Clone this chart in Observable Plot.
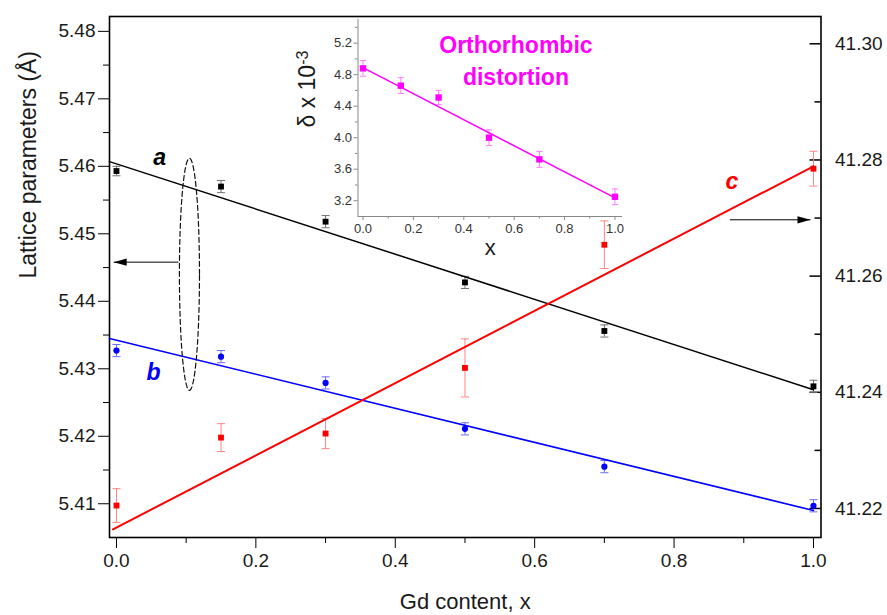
<!DOCTYPE html>
<html><head><meta charset="utf-8">
<script src="https://cdn.jsdelivr.net/npm/d3@7"></script>
<script src="https://cdn.jsdelivr.net/npm/@observablehq/plot@0.6"></script>
<style>
body{margin:0;background:#fff;}
#wrap{position:relative;width:887px;height:615px;}
#main{position:absolute;left:0;top:0;}
#inset{position:absolute;left:280px;top:0;}
</style></head><body><div id="wrap"><div id="main"></div><div id="inset"></div></div>
<script>
// ---------- data ----------
const gd = [0, 0.15, 0.3, 0.5, 0.7, 1.0];
const aVals = [5.4593, 5.4570, 5.4518, 5.4428, 5.4356, 5.4274];
const aErr  = [0.0007, 0.0009, 0.0009, 0.0009, 0.0009, 0.0009];
const bVals = [5.4327, 5.4318, 5.4279, 5.4211, 5.4155, 5.4097];
const bErr  = [0.0009, 0.0009, 0.0009, 0.0009, 0.0009, 0.0009];
const cVals = [41.2205, 41.2322, 41.2329, 41.2442, 41.2654, 41.2785];
const cErr  = [0.0029, 0.0024, 0.0026, 0.0050, 0.0041, 0.0030];
const aFitX = [-0.01, 1.0],  aFitY = [5.4607, 5.4269];
const bFitX = [-0.01, 1.0],  bFitY = [5.4345, 5.4090];
const cFitX = [-0.005, 1.0], cFitY = [41.2164, 41.2789];
const deltaVals = [4.88, 4.66, 4.51, 4.00, 3.725, 3.25];
const deltaErr  = [0.10, 0.10, 0.09, 0.10, 0.10, 0.10];
const dFitX = [-0.01, 1.01], dFitY = [4.905, 3.22];

const xTicks = [0, 0.2, 0.4, 0.6, 0.8, 1.0];
const xMinor = [0.1, 0.3, 0.5, 0.7, 0.9];
const leftTicks = [5.41, 5.42, 5.43, 5.44, 5.45, 5.46, 5.47, 5.48];
const leftMinor = [5.415, 5.425, 5.435, 5.445, 5.455, 5.465, 5.475];
const rightTicks = [41.22, 41.24, 41.26, 41.28, 41.30];
const rightMinor = [41.23, 41.25, 41.27, 41.29];
const insetYTicks = [3.2, 3.6, 4.0, 4.4, 4.8, 5.2];
const insetYMinor = [3.4, 3.8, 4.2, 4.6, 5.0, 5.4];
const insetXTicks = [0, 0.2, 0.4, 0.6, 0.8, 1.0];
const insetXMinor = [0.1, 0.3, 0.5, 0.7, 0.9];

// annotation anchors (data units)
const labA = {x: 0.062, y: 5.4613, t: "a"};
const labB = {x: 0.053, y: 5.4295, t: "b"};
const labC = {x: 0.883, y: 41.2762, t: "c"};
const ellipse = {cx: 0.1047, cy: 5.4440, rx: 0.0144, ry: 0.0172};
const arrowL = {x1: 0.089, x2: -0.004, y: 5.4458};
const arrowR = {x1: 0.88, x2: 0.9957, y: 41.2697};

// ---------- layout ----------
const FONT = '"Liberation Sans", Arial, Helvetica, sans-serif';
const W = 887, H = 615, ML = 109, MR = 66.5, MT = 16, MB = 78;
const FW = W - ML - MR;
const L0 = 5.405, L1 = 5.4822, R0 = 41.215, R1 = 41.3047;
const toLeft = v => L0 + (v - R0) * (L1 - L0) / (R1 - R0);
const toRight = v => R0 + (v - L0) * (R1 - R0) / (L1 - L0);

const rows = gd.map((x, i) => ({
  x, a: aVals[i], ae: aErr[i], b: bVals[i], be: bErr[i],
  c: toLeft(cVals[i]), cLo: toLeft(cVals[i] - cErr[i]), cHi: toLeft(cVals[i] + cErr[i])
}));
const capW = 0.0058;
function errMarks(data, lo, hi, color) {
  return [
    Plot.ruleX(data, {x: "x", y1: lo, y2: hi, stroke: color, strokeWidth: 1}),
    Plot.link(data, {x1: d => d.x - capW, x2: d => d.x + capW, y1: lo, y2: lo, stroke: color, strokeWidth: 1}),
    Plot.link(data, {x1: d => d.x - capW, x2: d => d.x + capW, y1: hi, y2: hi, stroke: color, strokeWidth: 1})
  ];
}
const fit = (xs, ys, f = v => v) => xs.map((x, i) => ({x, y: f(ys[i])}));
const ellPts = d3.range(0, 361, 4).map(t => ({
  x: ellipse.cx + ellipse.rx * Math.cos(t * Math.PI / 180),
  y: ellipse.cy + ellipse.ry * Math.sin(t * Math.PI / 180)
}));
const headLeft = {draw(ctx) { ctx.moveTo(0, 0); ctx.lineTo(13, -3.6); ctx.lineTo(13, 3.6); ctx.closePath(); }};
const headRight = {draw(ctx) { ctx.moveTo(0, 0); ctx.lineTo(-13, -3.6); ctx.lineTo(-13, 3.6); ctx.closePath(); }};

const main = Plot.plot({
  width: W, height: H, marginLeft: ML, marginRight: MR, marginTop: MT, marginBottom: MB,
  x: {domain: [-0.01, 1.0108]},
  y: {domain: [L0, L1]},
  style: {fontFamily: FONT, background: "white", color: "#1a1a1a"},
  marks: [
    Plot.axisX(xTicks, {tickSize: 11, tickPadding: 5, fontSize: 19, tickFormat: d => d.toFixed(1), label: null, stroke: "#000"}),
    Plot.axisX(xMinor, {tickSize: 6, tickFormat: () => "", label: null, stroke: "#000"}),
    Plot.axisY(leftTicks, {anchor: "left", tickSize: 11, tickPadding: 3, fontSize: 19, tickFormat: d => d.toFixed(2), label: null, stroke: "#000"}),
    Plot.axisY(leftMinor, {anchor: "left", tickSize: 6, tickFormat: () => "", label: null, stroke: "#000"}),
    Plot.axisY(rightTicks.map(toLeft), {anchor: "right", tickSize: 0, tickPadding: 14, fontSize: 19, tickFormat: d => toRight(d).toFixed(2), label: null}),
    Plot.tickY(rightTicks, {y: d => toLeft(d), insetLeft: FW - 11, stroke: "#000", strokeWidth: 1.5}),
    Plot.tickY(rightMinor, {y: d => toLeft(d), insetLeft: FW - 6, stroke: "#000", strokeWidth: 1.5}),
    Plot.frame({stroke: "#000", strokeWidth: 1.6}),
    ...errMarks(rows, d => d.a - d.ae, d => d.a + d.ae, "#707070"),
    ...errMarks(rows, d => d.b - d.be, d => d.b + d.be, "#6b6bff"),
    ...errMarks(rows, "cLo", "cHi", "#ff8585"),
    Plot.line(fit(aFitX, aFitY), {x: "x", y: "y", stroke: "#000", strokeWidth: 1.5}),
    Plot.line(fit(bFitX, bFitY), {x: "x", y: "y", stroke: "#0000ff", strokeWidth: 1.6}),
    Plot.line(fit(cFitX, cFitY, toLeft), {x: "x", y: "y", stroke: "#ff0000", strokeWidth: 2}),
    Plot.dot(rows, {x: "x", y: "a", symbol: "square", r: 3.3, fill: "#000"}),
    Plot.dot(rows, {x: "x", y: "b", symbol: "circle", r: 3.1, fill: "#0000ff"}),
    Plot.dot(rows, {x: "x", y: "c", symbol: "square", r: 3.3, fill: "#ff0000"}),
    Plot.line(ellPts, {x: "x", y: "y", stroke: "#111", strokeWidth: 1.2, strokeDasharray: "5,3", curve: "linear"}),
    Plot.link([arrowL], {x1: "x1", x2: "x2", y1: "y", y2: "y", stroke: "#000", strokeWidth: 1}),
    Plot.dot([arrowL], {x: "x2", y: "y", symbol: headLeft, fill: "#000", stroke: "none"}),
    Plot.link([arrowR], {x1: "x1", x2: "x2", y1: d => toLeft(d.y), y2: d => toLeft(d.y), stroke: "#000", strokeWidth: 1}),
    Plot.dot([arrowR], {x: "x2", y: d => toLeft(d.y), symbol: headRight, fill: "#000", stroke: "none"}),
    Plot.text([labA], {x: "x", y: "y", text: "t", fontSize: 23, fontWeight: "bold", fontStyle: "italic", fill: "#000"}),
    Plot.text([labB], {x: "x", y: "y", text: "t", fontSize: 23, fontWeight: "bold", fontStyle: "italic", fill: "#0000ff"}),
    Plot.text([labC], {x: "x", y: d => toLeft(d.y), text: "t", fontSize: 23, fontWeight: "bold", fontStyle: "italic", fill: "#ff0000"}),
    Plot.text(["Lattice parameters (Å)"], {text: d => d, frameAnchor: "left", rotate: -90, dx: -81, dy: 1.5, fontSize: 23, fill: "#1a1a1a"}),
    Plot.text(["Gd content, x"], {text: d => d, frameAnchor: "bottom", dy: 71, fontSize: 22, fill: "#1a1a1a"})
  ]
});
document.getElementById("main").appendChild(main);

// ---------- inset ----------
const IW = 350, IH = 262, IML = 77.5, IMT = 19, IMB = 46, IMR = 8;
const drows = gd.map((x, i) => ({x, y: deltaVals[i], lo: deltaVals[i] - deltaErr[i], hi: deltaVals[i] + deltaErr[i]}));
const icap = 0.012;
const inset = Plot.plot({
  width: IW, height: IH, marginLeft: IML, marginRight: IMR, marginTop: IMT, marginBottom: IMB,
  x: {domain: [-0.02, 1.03]},
  y: {domain: [3.0, 5.5]},
  style: {fontFamily: FONT, background: "transparent", color: "#333", overflow: "visible"},
  marks: [
    Plot.ruleX([-0.02], {stroke: "#888", strokeWidth: 1}),
    Plot.ruleY([3.0], {stroke: "#888", strokeWidth: 1}),
    Plot.axisY(insetYTicks, {anchor: "left", tickSize: 4, tickPadding: 2, fontSize: 13, tickFormat: d => d.toFixed(1), label: null, stroke: "#888"}),
    Plot.axisY(insetYMinor, {anchor: "left", tickSize: 2.5, tickFormat: () => "", label: null, stroke: "#888"}),
    Plot.axisX(insetXTicks, {tickSize: 4, tickPadding: 3, fontSize: 13, tickFormat: d => d.toFixed(1), label: null, stroke: "#888"}),
    Plot.axisX(insetXMinor, {tickSize: 2.5, tickFormat: () => "", label: null, stroke: "#888"}),
    Plot.ruleX(drows, {x: "x", y1: "lo", y2: "hi", stroke: "#ff7aff", strokeWidth: 1}),
    Plot.link(drows, {x1: d => d.x - icap, x2: d => d.x + icap, y1: "lo", y2: "lo", stroke: "#ff7aff"}),
    Plot.link(drows, {x1: d => d.x - icap, x2: d => d.x + icap, y1: "hi", y2: "hi", stroke: "#ff7aff"}),
    Plot.line(fit(dFitX, dFitY), {x: "x", y: "y", stroke: "#ff00ff", strokeWidth: 1.5}),
    Plot.dot(drows, {x: "x", y: "y", symbol: "square", r: 3.6, fill: "#ff00ff"}),
    Plot.text(["Orthorhombic\ndistortion"], {text: d => d, x: () => 0.607, y: () => 5.005, fontSize: 23, fontWeight: "bold", fill: "#ff00ff", lineHeight: 1.39}),
    Plot.text(["x"], {text: d => d, frameAnchor: "bottom", dy: 38, fontSize: 22, fill: "#1a1a1a"}),
    Plot.text(["δ x 10"], {text: d => d, frameAnchor: "left", rotate: -90, dx: -50.5, dy: 9.5, fontSize: 23, fill: "#1a1a1a"})
  ]
});
d3.select(inset).selectAll("text").filter(function() { return this.textContent === "δ x 10"; })
  .append("tspan").attr("dy", "-0.45em").attr("font-size", "0.7em").text("-3");
document.getElementById("inset").appendChild(inset);
</script>
</body></html>
